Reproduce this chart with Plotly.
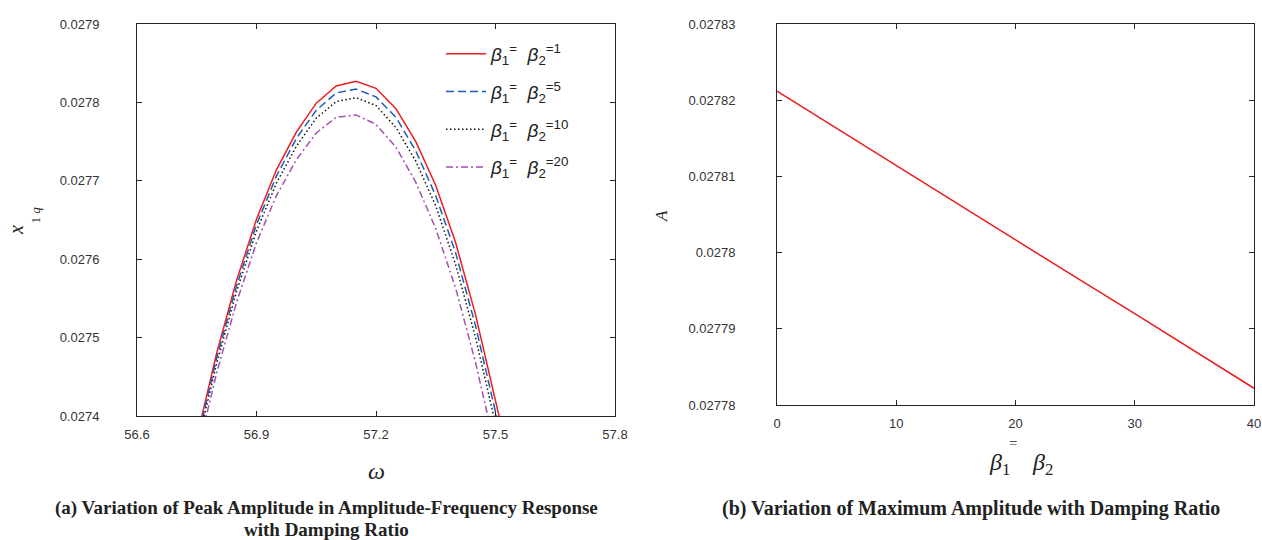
import plotly.graph_objects as go

# ---------------- data ----------------
omega = [56.75, 56.80, 56.85, 56.90, 56.95, 57.00, 57.05, 57.10, 57.15,
         57.20, 57.25, 57.30, 57.35, 57.40, 57.45, 57.50, 57.55]
amp_beta1 = [0.027372, 0.027480, 0.027573, 0.027651, 0.027714, 0.027762, 0.027799, 0.027821, 0.027827,
             0.027818, 0.027792, 0.027750, 0.027694, 0.027621, 0.027529, 0.027425, 0.027310]
amp_beta5 = [0.027366, 0.027474, 0.027566, 0.027644, 0.027706, 0.027754, 0.027790, 0.027812, 0.027817,
             0.027807, 0.027781, 0.027738, 0.027681, 0.027608, 0.027515, 0.027411, 0.027295]
amp_beta10 = [0.027360, 0.027467, 0.027559, 0.027636, 0.027697, 0.027744, 0.027780, 0.027801, 0.027806,
              0.027796, 0.027768, 0.027725, 0.027668, 0.027593, 0.027500, 0.027395, 0.027280]
amp_beta20 = [0.027349, 0.027455, 0.027545, 0.027621, 0.027681, 0.027727, 0.027761, 0.027781, 0.027784,
              0.027772, 0.027743, 0.027698, 0.027639, 0.027563, 0.027468, 0.027362, 0.027246]

beta = [0, 5, 10, 15, 20, 25, 30, 35, 40]
amp_max = [0.0278212, 0.0278163, 0.0278115, 0.0278066, 0.0278017,
           0.0277968, 0.0277920, 0.0277871, 0.0277822]

left_xticks = [56.6, 56.9, 57.2, 57.5, 57.8]
left_xlabels = ["56.6", "56.9", "57.2", "57.5", "57.8"]
left_yticks = [0.0274, 0.0275, 0.0276, 0.0277, 0.0278, 0.0279]
left_ylabels = ["0.0274", "0.0275", "0.0276", "0.0277", "0.0278", "0.0279"]
right_xticks = [0, 10, 20, 30, 40]
right_xlabels = ["0", "10", "20", "30", "40"]
right_yticks = [0.02778, 0.02779, 0.0278, 0.02781, 0.02782, 0.02783]
right_ylabels = ["0.02778", "0.02779", "0.0278", "0.02781", "0.02782", "0.02783"]

legend_values = ["1", "5", "10", "20"]

# ---------------- figure ----------------
W, H = 1262, 540
def px(x):
    return x / W
def py(y):
    return 1 - y / H

fig = go.Figure()

series = [
    (amp_beta1, "#EE1C1C", "solid"),
    (amp_beta5, "#1F5BB5", "8px,4px"),
    (amp_beta10, "#111111", "1.5px,2.5px"),
    (amp_beta20, "#A64FB3", "7px,3px,2px,3px"),
]
for (vals, col, dash), lv in zip(series, legend_values):
    name = ("<i>β</i><sub>1</sub><sup>=</sup>  <i>β</i><sub>2</sub>"
            "<sup>=" + lv + "</sup>")
    fig.add_trace(go.Scatter(x=omega, y=vals, mode="lines", name=name,
                             legendgroup=lv,
                             line=dict(color=col, width=1.5, dash=dash),
                             xaxis="x", yaxis="y"))

fig.add_trace(go.Scatter(x=beta, y=amp_max, mode="lines", showlegend=False,
                         line=dict(color="#EE1C1C", width=1.5),
                         xaxis="x2", yaxis="y2"))

tickfont = dict(family="Liberation Sans, Arial", size=13, color="#333333")
axcommon = dict(showgrid=False, zeroline=False, showline=True, linecolor="#262626",
                linewidth=1, mirror="ticks", ticks="inside", ticklen=5,
                tickcolor="#262626", tickfont=tickfont, automargin=False)

fig.update_layout(
    width=W, height=H,
    margin=dict(l=0, r=0, t=0, b=0, autoexpand=False),
    paper_bgcolor="white", plot_bgcolor="white",
    xaxis=dict(domain=[px(137), px(615)], range=[56.6, 57.8], anchor="y",
               tickvals=left_xticks, ticktext=left_xlabels,
               ticklabelstandoff=6, **axcommon),
    yaxis=dict(domain=[py(416), py(24)], range=[0.0274, 0.0279], anchor="x",
               tickvals=left_yticks, ticktext=left_ylabels,
               ticklabelstandoff=34, **axcommon),
    xaxis2=dict(domain=[px(777), px(1254)], range=[0, 40], anchor="y2",
                tickvals=right_xticks, ticktext=right_xlabels,
                ticklabelstandoff=6, **axcommon),
    yaxis2=dict(domain=[py(405), py(24)], range=[0.02778, 0.02783], anchor="x2",
                tickvals=right_yticks, ticktext=right_ylabels,
                ticklabelstandoff=38, **axcommon),
    showlegend=True,
    legend=dict(x=px(441), y=py(35), xanchor="left", yanchor="top",
                bgcolor="rgba(0,0,0,0)", borderwidth=0,
                font=dict(family="Liberation Sans, Arial", size=19, color="#222222"),
                tracegroupgap=10, itemwidth=40),
)

serif = "Liberation Serif, Times New Roman"
annots = [
    # left y title
    dict(x=px(16), y=py(230), text="<i>x</i>", textangle=-90,
         font=dict(family=serif, size=20, color="#222222")),
    dict(x=px(34.5), y=py(215), text="1 <i>q</i>", textangle=-90,
         font=dict(family=serif, size=13, color="#222222")),
    # left x title
    dict(x=px(376), y=py(471), text="<i>ω</i>",
         font=dict(family=serif, size=24, color="#222222")),
    # right y title
    dict(x=px(661), y=py(216), text="<i>A</i>", textangle=-90,
         font=dict(family=serif, size=17, color="#222222")),
    # right x title
    dict(x=px(999), y=py(464), text="<i>β</i><sub>1</sub>",
         font=dict(family=serif, size=24, color="#222222")),
    dict(x=px(1013), y=py(443), text="=",
         font=dict(family=serif, size=15, color="#222222")),
    dict(x=px(1042), y=py(464), text="<i>β</i><sub>2</sub>",
         font=dict(family=serif, size=24, color="#222222")),
    # captions
    dict(x=px(326), y=py(508), text="<b>(a) Variation of Peak Amplitude in Amplitude-Frequency Response</b>",
         font=dict(family=serif, size=19, color="#222222")),
    dict(x=px(326), y=py(529), text="<b>with Damping Ratio</b>",
         font=dict(family=serif, size=19, color="#222222")),
    dict(x=px(971), y=py(509), text="<b>(b) Variation of Maximum Amplitude with Damping Ratio</b>",
         font=dict(family=serif, size=20, color="#222222")),
]
for a in annots:
    a.update(xref="paper", yref="paper", showarrow=False, xanchor="center", yanchor="middle",
             borderpad=0)
    fig.add_annotation(**a)

fig.write_html("out.html")
